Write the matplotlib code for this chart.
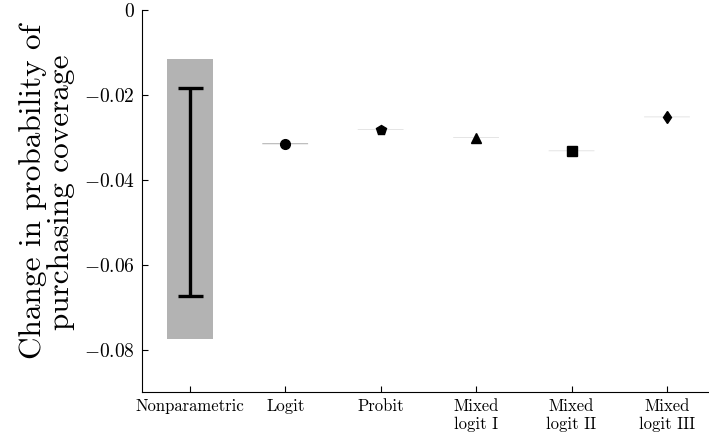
import numpy as np
import matplotlib
matplotlib.use("Agg")
import matplotlib.pyplot as plt

plt.rcParams['font.family'] = 'serif'
plt.rcParams['font.serif'] = ['cmr10']
plt.rcParams['mathtext.fontset'] = 'cm'
plt.rcParams['axes.unicode_minus'] = False

# 数据
models = ['Nonparametric', 'Logit', 'Probit', 'Mixed\nlogit I', 'Mixed\nlogit II', 'Mixed\nlogit III']
np_band = (-0.0774, -0.0115)      # 非参数：灰色区间
np_bounds = (-0.0673, -0.0184)    # 非参数：误差线
point_est = [-0.0315, -0.0282, -0.0301, -0.0332, -0.0252]
point_ci_lo = [-0.031625, -0.02824, -0.03014, -0.03324, -0.02524]
point_ci_hi = [-0.031375, -0.02816, -0.03006, -0.03316, -0.02516]
markers = ['o', 'p', '^', 's', 'd']
yticks = [0, -0.02, -0.04, -0.06, -0.08]
ytick_labels = ['$0$', '$-0.02$', '$-0.04$', '$-0.06$', '$-0.08$']

fig = plt.figure(figsize=(7.09, 4.42), dpi=100)
ax = fig.add_axes([142 / 709, 50 / 442, 1 - 142 / 709, 382 / 442])

x = np.arange(len(models))
band_color = '#b3b3b3'

# 非参数区间
ax.bar(x[0], np_band[1] - np_band[0], bottom=np_band[0], width=0.48,
       color=band_color, edgecolor='none', zorder=1)
ax.errorbar([x[0]], [np.mean(np_bounds)], yerr=[[np.mean(np_bounds) - np_bounds[0]],
            [np_bounds[1] - np.mean(np_bounds)]], fmt='none', ecolor='black',
            elinewidth=2.4, capsize=9, capthick=2.4, zorder=3)

# 参数模型
for i, (m, y, lo, hi) in enumerate(zip(markers, point_est, point_ci_lo, point_ci_hi)):
    xi = x[i + 1]
    bars = ax.bar(xi, hi - lo, bottom=lo, width=0.48, color=band_color,
                  edgecolor='none', zorder=1)
    for b in bars:
        b.set_snap(False)
    ms = 7 if m != 'd' else 6
    ax.plot([xi], [y], marker=m, color='black', markersize=ms, linestyle='none', zorder=3)

ax.set_xlim(-0.5, 5.44)
ax.set_ylim(-0.09, 0)
ax.set_xticks(x)
ax.set_xticklabels(models, fontsize=12, linespacing=1.2)
ax.set_yticks(yticks)
ax.set_yticklabels(ytick_labels, fontsize=14)
ax.tick_params(direction='in', length=4, width=0.8, pad=5)
ax.spines['top'].set_visible(False)
ax.spines['right'].set_visible(False)
ax.set_ylabel('Change in probability of\npurchasing coverage', fontsize=22.5,
              linespacing=1.0)
ax.yaxis.set_label_coords(-0.118, 0.524)

fig.savefig('out.png', dpi=100)
